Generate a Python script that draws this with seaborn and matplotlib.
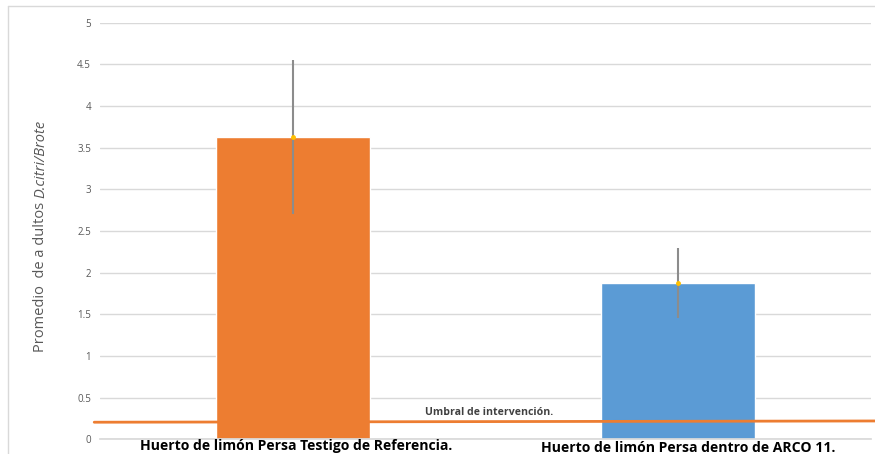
import matplotlib
matplotlib.use("Agg")
import matplotlib.pyplot as plt
import seaborn as sns
import pandas as pd
from matplotlib.lines import Line2D

categories = ["Huerto de limón Persa Testigo de Referencia.",
              "Huerto de limón Persa dentro de ARCO 11."]
means = [3.63, 1.88]
errors = [0.92, 0.42]
bar_colors = ["#ED7D31", "#5B9BD5"]
threshold_x = [-0.515, 1.51]
threshold_y = [0.205, 0.22]
yticks = [0, 0.5, 1, 1.5, 2, 2.5, 3, 3.5, 4, 4.5, 5]
ytick_labels = ["0", "0.5", "1", "1.5", "2", "2.5", "3", "3.5", "4", "4.5", "5"]

sns.set_theme(style="white")
plt.rcParams['font.family'] = ['Open Sans', 'DejaVu Sans']

df = pd.DataFrame({"cat": categories, "mean": means})

fig = plt.figure(figsize=(8.75, 4.54), dpi=100)
ax = fig.add_axes([100/875, 1 - 439.3/454, 771/875, (439.3-22.7)/454])

sns.barplot(data=df, x="cat", y="mean", hue="cat", palette=bar_colors,
            width=0.4, ax=ax, legend=False, saturation=1, errorbar=None)
for i, (m, e) in enumerate(zip(means, errors)):
    ax.errorbar(i, m, yerr=e, fmt='none', ecolor="#8C8C8C", elinewidth=1.5, capsize=0, zorder=5)
    ax.plot(i, m, marker='o', markersize=2.5, color="#FFC000", zorder=6)

ax.set_xlim(-0.5, 1.5)
ax.set_ylim(0, 5)
ax.set_yticks(yticks)
ax.set_yticklabels(ytick_labels, fontsize=7, color="#595959")
ax.yaxis.grid(True, color="#D9D9D9", linewidth=1)
ax.set_axisbelow(True)
ax.tick_params(axis='y', length=0, pad=6.5)
ax.tick_params(axis='x', length=0, pad=0)
for s in ["top", "right", "left"]:
    ax.spines[s].set_visible(False)
ax.spines["bottom"].set_color("#D9D9D9")
ax.set_xlabel("")
ax.set_ylabel("")
ax.set_xticks([])

ax.plot(threshold_x, threshold_y, color="#ED7D31", linewidth=2, clip_on=False, zorder=7)
ax.text(0.51, 0.32, "Umbral de intervención.", fontsize=7.6, fontweight='bold',
        color="#404040", ha='center', va='center')

ax.text(0.008, -0.085, categories[0], fontsize=10.1, fontweight='bold', color="black",
        ha='center', va='center', clip_on=False)
ax.text(1.025, -0.1, categories[1], fontsize=10.1, fontweight='bold', color="black",
        ha='center', va='center', clip_on=False)

# y label: regular part + italic part
fig.canvas.draw()
renderer = fig.canvas.get_renderer()
t1 = fig.text(41/875, 0, "Promedio  de a dultos ", rotation=90, fontsize=10.5,
              color="#595959", ha='center', va='bottom')
t2 = fig.text(41/875, 0, "D.citri/Brote", rotation=90, fontsize=10.5, style='italic',
              color="#595959", ha='center', va='bottom')
h1 = t1.get_window_extent(renderer).height
y0 = (454 - 352)
t1.set_position((41/875, y0/454))
t2.set_position((41/875, (y0 + h1)/454))

fig.add_artist(Line2D([8/875, 8/875], [0, 1 - 6/454], color="#D9D9D9", linewidth=1))
fig.add_artist(Line2D([8/875, 1], [1 - 6/454, 1 - 6/454], color="#D9D9D9", linewidth=1))

fig.savefig("out.png", dpi=100)
